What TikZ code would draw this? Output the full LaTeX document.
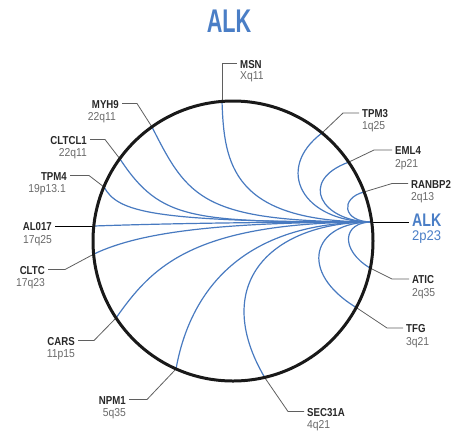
\documentclass[tikz,border=0pt]{standalone}
\usepackage{fontspec}
\setmainfont{Liberation Sans}
\usetikzlibrary{calc}
\definecolor{curveblue}{RGB}{72,122,192}
\definecolor{titleblue}{RGB}{74,126,198}
\definecolor{namegray}{RGB}{40,40,40}
\definecolor{subgray}{RGB}{105,105,105}
\definecolor{leadgray}{RGB}{95,95,95}
\newcommand{\labnm}[1]{\scalebox{0.84}[1]{#1}}
\newcommand{\labsub}[1]{\scalebox{0.9}[1]{#1}}
\begin{document}
\begin{tikzpicture}[x=1pt,y=-1pt,
  namelab/.style={inner sep=0pt, text=namegray, font=\fontsize{11.5}{12}\selectfont\bfseries},
  sublab/.style={inner sep=0pt, text=subgray, font=\fontsize{11.5}{12}\selectfont},
  leader/.style={draw=leadgray, line width=0.8pt},
  darkleader/.style={draw=black, line width=0.9pt},
  fusion/.style={draw=curveblue, line width=1.2pt},
  ringstyle/.style={draw=black!90, line width=3pt, circle, minimum size=280pt, inner sep=0pt}
]
\useasboundingbox (0,0) rectangle (452,432);

% title
\node[inner sep=0pt, anchor=base, text=titleblue, font=\fontsize{32.8}{34}\selectfont\bfseries] (title) at (229,32) {\scalebox{0.66}[1]{ALK}};

% hub and points on the circle
\coordinate (C) at (233,241);
\coordinate (H) at (372,222);
\coordinate (pMSN) at (222,101);
\coordinate (pTPM3) at (322,133);
\coordinate (pEML4) at (349,162);
\coordinate (pRANBP2) at (364,192);
\coordinate (pATIC) at (370,268);
\coordinate (pTFG) at (357,308);
\coordinate (pSEC) at (265,378);
\coordinate (pNPM1) at (176,369);
\coordinate (pCARS) at (116,318);
\coordinate (pCLTC) at (94,254);
\coordinate (pAL) at (94,226);
\coordinate (pTPM4) at (104,187);
\coordinate (pCLTCL1) at (120,159);
\coordinate (pMYH9) at (152,127);

% labels (left side)
\node[namelab, anchor=base east] (nMYH9) at (119,108) {\labnm{MYH9}};
\node[sublab, anchor=base east] (sMYH9) at (116,120) {\labsub{22q11}};
\node[namelab, anchor=base east] (nCLTCL1) at (87,144) {\labnm{CLTCL1}};
\node[sublab, anchor=base east] (sCLTCL1) at (87,156.5) {\labsub{22q11}};
\node[namelab, anchor=base east] (nTPM4) at (67,180) {\labnm{TPM4}};
\node[sublab, anchor=base east] (sTPM4) at (66,192.5) {\labsub{19p13.1}};
\node[namelab, anchor=base east] (nAL) at (52,230.5) {\labnm{AL017}};
\node[sublab, anchor=base east] (sAL) at (52,243) {\labsub{17q25}};
\node[namelab, anchor=base east] (nCLTC) at (45,274) {\labnm{CLTC}};
\node[sublab, anchor=base east] (sCLTC) at (45,286.5) {\labsub{17q23}};
\node[namelab, anchor=base east] (nCARS) at (75,345) {\labnm{CARS}};
\node[sublab, anchor=base east] (sCARS) at (75,357.5) {\labsub{11p15}};
\node[namelab, anchor=base east] (nNPM1) at (126,404) {\labnm{NPM1}};
\node[sublab, anchor=base east] (sNPM1) at (126,416.5) {\labsub{5q35}};

% labels (right side)
\node[namelab, anchor=base west] (nMSN) at (240,68) {\labnm{MSN}};
\node[sublab, anchor=base west] (sMSN) at (240,79.5) {\labsub{Xq11}};
\node[namelab, anchor=base west] (nTPM3) at (362,117.5) {\labnm{TPM3}};
\node[sublab, anchor=base west] (sTPM3) at (362,129.5) {\labsub{1q25}};
\node[namelab, anchor=base west] (nEML4) at (395,154.5) {\labnm{EML4}};
\node[sublab, anchor=base west] (sEML4) at (395,167) {\labsub{2p21}};
\node[namelab, anchor=base west] (nRANBP2) at (411,188) {\labnm{RANBP2}};
\node[sublab, anchor=base west] (sRANBP2) at (411,200) {\labsub{2q13}};
\node[inner sep=0pt, anchor=base west, text=titleblue, font=\fontsize{18.2}{20}\selectfont\bfseries] (nALK) at (412,226) {\scalebox{0.78}[1]{ALK}};
\node[inner sep=0pt, anchor=base west, text=titleblue, font=\fontsize{14}{15}\selectfont] (sALK) at (412,240.5) {\scalebox{0.93}[1]{2p23}};
\node[namelab, anchor=base west] (nATIC) at (412,283.5) {\labnm{ATIC}};
\node[sublab, anchor=base west] (sATIC) at (412,296) {\labsub{2q35}};
\node[namelab, anchor=base west] (nTFG) at (406,332.5) {\labnm{TFG}};
\node[sublab, anchor=base west] (sTFG) at (406,345) {\labsub{3q21}};
\node[namelab, anchor=base west] (nSEC) at (307,416) {\labnm{SEC31A}};
\node[sublab, anchor=base west] (sSEC) at (307,428.5) {\labsub{4q21}};

% leader bends
\coordinate (bMSN) at (222,63.5);
\coordinate (bMYH9) at (137,103.5);
\coordinate (bCLTCL1) at (105,139.5);
\coordinate (bTPM4) at (89,175.5);
\coordinate (bCLTC) at (65,269.5);
\coordinate (bCARS) at (94,340.5);
\coordinate (bNPM1) at (147,399.5);
\coordinate (bSEC) at (288,411.5);
\coordinate (bTFG) at (387,328);
\coordinate (bATIC) at (392,279);
\coordinate (bRANBP2) at (392,183.5);
\coordinate (bEML4) at (374,150);
\coordinate (bTPM3) at (343,113);

% leaders
\draw[leader] (pMSN) -- (bMSN) -- ($(bMSN -| nMSN.west)+(-3,0)$);
\draw[leader] (pMYH9) -- (bMYH9) -- ($(bMYH9 -| nMYH9.east)+(3,0)$);
\draw[leader] (pCLTCL1) -- (bCLTCL1) -- ($(bCLTCL1 -| nCLTCL1.east)+(3,0)$);
\draw[leader] (pTPM4) -- (bTPM4) -- ($(bTPM4 -| nTPM4.east)+(3,0)$);
\draw[darkleader] (pAL) -- ($(pAL -| nAL.east)+(3,0)$);
\draw[leader] (pCLTC) -- (bCLTC) -- ($(bCLTC -| nCLTC.east)+(3,0)$);
\draw[leader] (pCARS) -- (bCARS) -- ($(bCARS -| nCARS.east)+(3,0)$);
\draw[leader] (pNPM1) -- (bNPM1) -- ($(bNPM1 -| nNPM1.east)+(3,0)$);
\draw[leader] (pSEC) -- (bSEC) -- ($(bSEC -| nSEC.west)+(-3,0)$);
\draw[leader] (pTFG) -- (bTFG) -- ($(bTFG -| nTFG.west)+(-3,0)$);
\draw[leader] (pATIC) -- (bATIC) -- ($(bATIC -| nATIC.west)+(-3,0)$);
\draw[darkleader] (H) -- ($(H -| nALK.west)+(-3,0)$);
\draw[leader] (pRANBP2) -- (bRANBP2) -- ($(bRANBP2 -| nRANBP2.west)+(-3,0)$);
\draw[leader] (pEML4) -- (bEML4) -- ($(bEML4 -| nEML4.west)+(-3,0)$);
\draw[leader] (pTPM3) -- (bTPM3) -- ($(bTPM3 -| nTPM3.west)+(-3,0)$);

% fusion curves
\draw[fusion] (pMSN) .. controls (224,164) and (232,222) .. (H);
\draw[fusion] (pTPM3) .. controls (274,169) and (302,222) .. (H);
\draw[fusion] (pEML4) .. controls (297,181) and (322,222) .. (H);
\draw[fusion] (pRANBP2) .. controls (340,198) and (342,222) .. (H);
\draw[fusion] (pATIC) .. controls (340,250) and (342,222) .. (H);
\draw[fusion] (pTFG) .. controls (297,272) and (312,222) .. (H);
\draw[fusion] (pSEC) .. controls (209,283) and (272,222) .. (H);
\draw[fusion] (pNPM1) .. controls (190,291) and (242,222) .. (H);
\draw[fusion] (pCARS) .. controls (152,267) and (192,222) .. (H);
\draw[fusion] (pCLTC) .. controls (140,232) and (220,222) .. (H);
\draw[fusion] (pAL) .. controls (180,223) and (280,222) .. (H);
\draw[fusion] (pTPM4) .. controls (118,212) and (150,222) .. (H);
\draw[fusion] (pCLTCL1) .. controls (161,221) and (192,222) .. (H);
\draw[fusion] (pMYH9) .. controls (188,198) and (202,222) .. (H);

% ring
\node[ringstyle] (ring) at (C) {};
\end{tikzpicture}
\end{document}
